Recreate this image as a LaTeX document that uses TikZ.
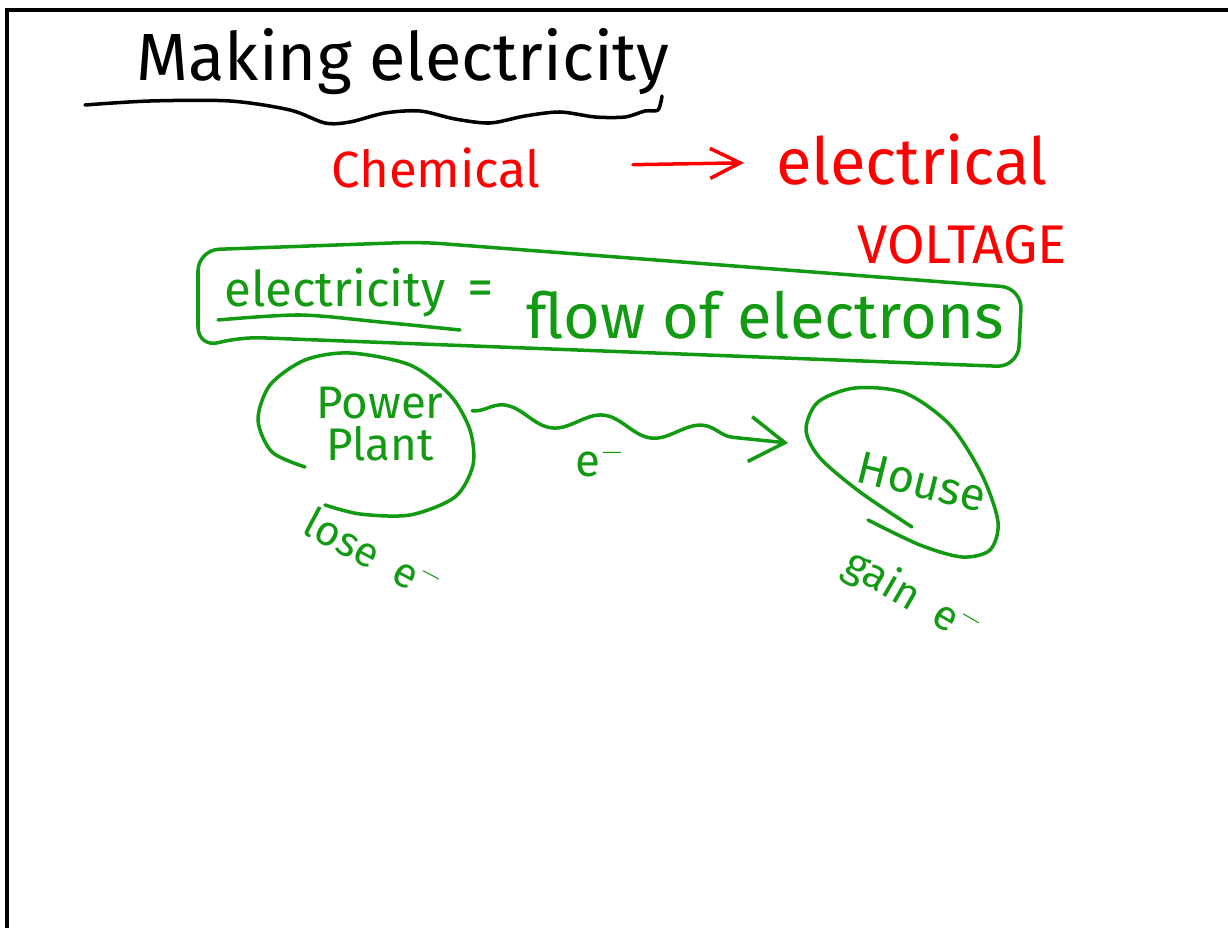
\documentclass[tikz,border=0pt]{standalone}
\usepackage{fontspec}
\setmainfont{Fira Sans}
\usetikzlibrary{positioning,arrows.meta,decorations.pathmorphing}
\definecolor{WBRed}{HTML}{FF0000}
\definecolor{WBGreen}{HTML}{139A13}
\definecolor{WBInk}{HTML}{000000}
\tikzset{
  wbFrame/.style={
    line width=2.2pt,
    draw=WBInk
  },
  wbPen/.style={
    line width=2pt,
    line cap=round,
    line join=round
  },
  wbInkPen/.style={
    wbPen,
    draw=WBInk
  },
  wbRedPen/.style={
    wbPen,
    draw=WBRed
  },
  wbGreenPen/.style={
    wbPen,
    draw=WBGreen
  },
  wbText/.style={
    inner sep=1pt,
    text=WBInk
  },
  wbRedText/.style={
    wbText,
    text=WBRed
  },
  wbGreenText/.style={
    wbText,
    text=WBGreen
  },
  wbRedArrow/.style={
    wbRedPen,
    -{Straight Barb[length=6mm,width=6mm]}
  },
  wbWave/.style={
    wbGreenPen,
    decorate,
    decoration={snake, amplitude=0.18cm, segment length=2cm, post length=0.6cm},
    -{Straight Barb[length=7mm,width=9mm]}
  }
}

\begin{document}
\begin{tikzpicture}[x=0.02cm, y=-0.02cm]
  \useasboundingbox (0,0) rectangle (1228,928);
  % board edge
  \draw[wbFrame] (7,928) -- (7,10) -- (1228,10);

  % heading
  \node (title) [wbText, font=\fontsize{38pt}{46pt}\selectfont] at (403,62) {Making electricity};
  \draw[wbInkPen] plot[smooth] coordinates {(85,105) (150,101) (230,101) (290,110) (325,123) (350,122) (385,113) (420,111) (455,119) (490,123) (525,116) (560,112) (595,117) (625,117) (645,111) (658,110) (662,96)};

  % energy change
  \node (chem) [wbRedText, font=\fontsize{29pt}{35pt}\selectfont] at (436,168) {Chemical};
  \node (elec) [wbRedText, font=\fontsize{37pt}{44pt}\selectfont] at (912,160) {electrical};
  \node (volt) [wbRedText, font=\fontsize{31pt}{37pt}\selectfont] at (962,245) {VOLTAGE};
  \draw [wbRedArrow, shorten <=1.8cm, shorten >=0.6cm] (chem) -- (elec);

  % definition box
  \draw[wbGreenPen, rounded corners=12pt] (198,250) -- (420,242) -- (1022,288) -- (1018,367) -- (240,337) -- (198,348) -- cycle;
  \node (word) [wbGreenText, font=\fontsize{28pt}{34pt}\selectfont] at (335,293) {electricity};
  \node (eq) [wbGreenText, font=\fontsize{30pt}{36pt}\selectfont, right=10pt of word] {=};
  \node (flow) [wbGreenText, font=\fontsize{36pt}{43pt}\selectfont] at (765,315) {flow of electrons};
  \draw[wbGreenPen] plot[smooth] coordinates {(218,320) (300,315) (380,322) (460,330)};

  % power plant
  \node (plant) [circle, minimum size=4.3cm, inner sep=0pt] at (367,435) {};
  \node (plantA) [wbGreenText, font=\fontsize{26pt}{31pt}\selectfont] at (380,403) {Power};
  \node (plantB) [wbGreenText, font=\fontsize{26pt}{31pt}\selectfont, below=2pt of plantA] {Plant};
  \draw[wbGreenPen] plot[smooth] coordinates {(305,467) (272,452) (258,420) (270,385) (305,360) (350,353) (410,365) (450,395) (470,430) (473,465) (455,497) (410,515) (360,514) (325,505)};
  \node (lose) [wbGreenText, font=\fontsize{24pt}{29pt}\selectfont, rotate=-28] at (374,553) {lose\hspace{0.5em}e$^-$};

  % house
  \coordinate (houseIn) at (788,443);
  \node (house) [wbGreenText, font=\fontsize{26pt}{31pt}\selectfont, rotate=-14] at (922,482) {House};
  \draw[wbGreenPen] plot[smooth] coordinates {(912,527) (860,492) (820,458) (806,430) (818,402) (855,388) (905,393) (950,425) (982,475) (998,522) (990,550) (962,557) (920,545) (868,520)};
  \node (gain) [wbGreenText, font=\fontsize{24pt}{29pt}\selectfont, rotate=-30] at (912,598) {gain\hspace{0.5em}e$^-$};

  % electron flow
  \draw[wbWave] (plant.13) -- (houseIn);
  \node (eMinus) [wbGreenText, font=\fontsize{26pt}{31pt}\selectfont] at (600,460) {e$^-$};
\end{tikzpicture}
\end{document}
